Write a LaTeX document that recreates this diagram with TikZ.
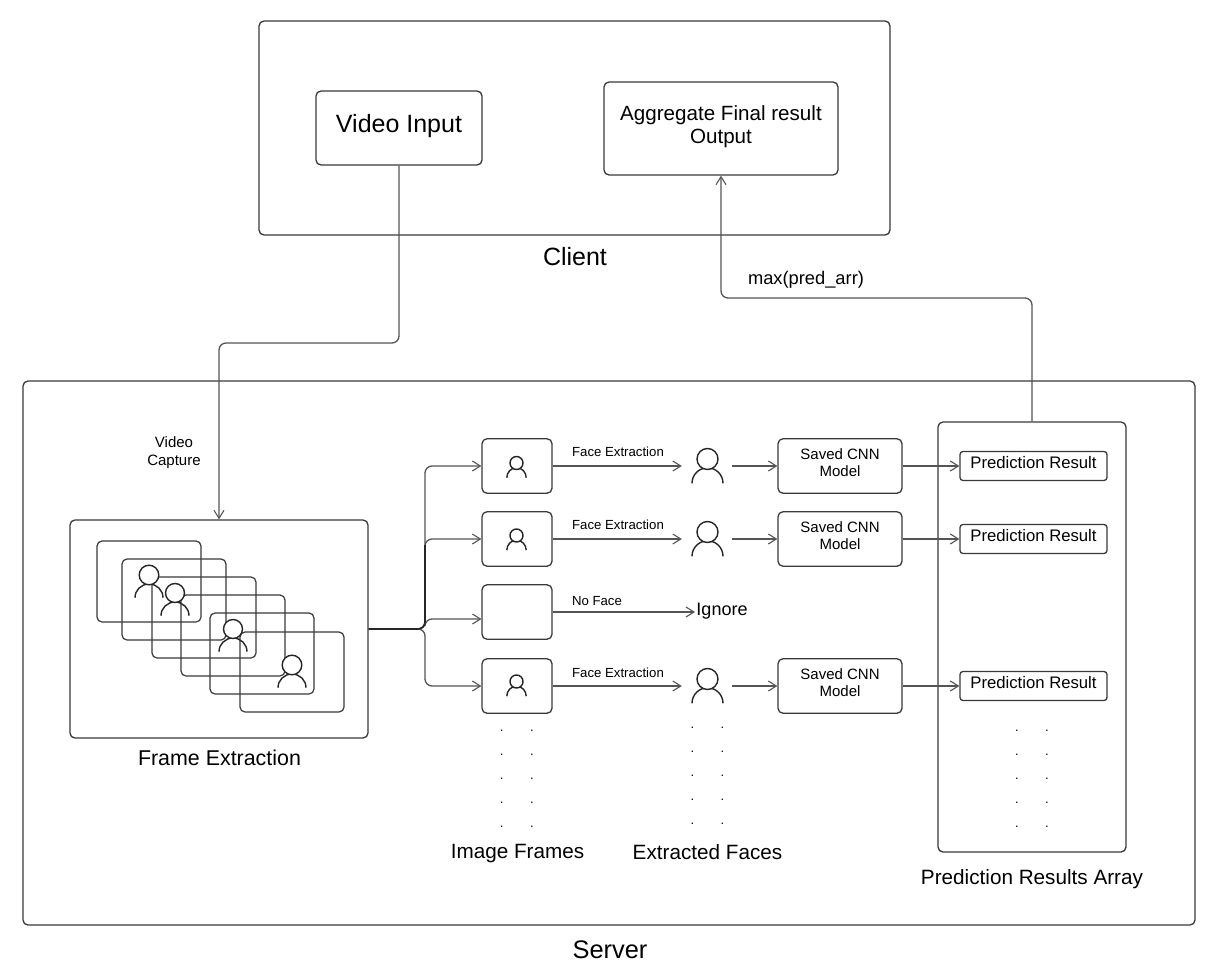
\documentclass[tikz,border=0pt]{standalone}
\usepackage{fontspec}
\setmainfont{Liberation Sans}
\usetikzlibrary{arrows.meta}
\definecolor{ln}{HTML}{3A3A3A}
\definecolor{cn}{HTML}{555555}
\newcommand{\fs}[2]{\fontsize{#1}{#2}\selectfont}
\newcommand{\lift}[1]{\rule[-#1]{0pt}{#1}}
\tikzset{
  box/.style={draw=ln,line width=1.3pt,rounded corners=5pt,align=center,inner sep=0pt,text=black},
  txt/.style={inner sep=0pt,align=center,text=black},
  conn/.style={draw=cn,line width=1.3pt,rounded corners=7pt,-{Straight Barb[length=8pt,width=10pt,line width=1.1pt]}},
  trunkline/.style={draw=black!85,line width=1.6pt,rounded corners=7pt},
  slot/.style={inner sep=0pt,minimum height=36pt},
  dotmark/.style={inner sep=0pt,font=\fs{13}{13}}
}
% person icon: cx, head centre y, head radius, half body width, base offset, body height
\newcommand{\personicon}[6]{%
  \draw[line width=1.4pt,draw=black!85] (#1-#4,#2+#5) arc[start angle=180,end angle=360,x radius=#4,y radius=#6];
  \draw[line width=1.4pt,draw=black!85,fill=white] (#1,#2) circle[radius=#3];
}
\begin{document}
\begin{tikzpicture}[x=1pt,y=-1pt]
\useasboundingbox[fill=white] (0,0) rectangle (1221,971);

% containers
\node[box,minimum width=631pt,minimum height=214pt] (client) at (574.5,128) {};
\node[box,minimum width=1172pt,minimum height=544pt] (server) at (609,653) {};
\node[txt,font=\fs{25}{25}] (clientlab) at (575,257) {Client};
\node[txt,font=\fs{25.4}{25}] (serverlab) at (610,950) {Server};

% client boxes
\node[box,minimum width=166pt,minimum height=74pt,font=\fs{25}{25}] (video) at (399,128) {Video Input\lift{10pt}};
\node[box,minimum width=234pt,minimum height=93pt,font=\fs{20.6}{23}] (agg) at (721,128.5) {Aggregate Final result\\Output\lift{7pt}};

% frame extraction
\node[box,minimum width=298pt,minimum height=218pt] (fe) at (219,629) {};
\node[txt,font=\fs{21.4}{22}] (felab) at (219.5,758) {Frame Extraction};
\foreach \nm/\a/\b/\c/\d in {fr1/97/201/541/622,fr2/122/226/559/640,fr3/152/256/577/658,fr4/181/285/595/676,fr5/210/314/613/694,fr6/240/344/632/712}{
  \node[box,line width=1.2pt,minimum width=\b pt-\a pt,minimum height=\d pt-\c pt] (\nm) at ({(\a+\b)/2},{(\c+\d)/2}) {};
}
\personicon{149}{575}{9.8}{14}{22.7}{13.7}
\personicon{175}{593}{9.5}{14}{22.7}{13.7}
\personicon{233}{629}{9.5}{14}{22.7}{13.7}
\personicon{292}{665}{9.8}{14}{22.7}{13.7}

% image frames
\foreach \nm/\cy in {img1/466,img2/539,img3/612,img4/686}{
  \node[box,minimum width=70pt,minimum height=54.5pt] (\nm) at (517,\cy) {};
}
\foreach \cy in {463,535.5,681.5}{ \personicon{516.5}{\cy}{6.5}{9.7}{14.7}{10} }

% faces
\foreach \nm/\cy in {face1/466,face2/539,face4/686}{
  \node[slot,minimum width=50pt] (\nm) at (707,\cy) {};
}
\foreach \cy in {459,532,679}{ \personicon{707.5}{\cy}{10.5}{15.5}{24.3}{15.5} }
\node[txt,font=\fs{18}{18}] (ignore) at (722,611) {Ignore};
\coordinate (ignorein) at (695,612);

% CNN
\foreach \nm/\cy in {cnn1/466,cnn2/539,cnn4/686}{
  \node[box,minimum width=124pt,minimum height=54.5pt,font=\fs{15}{17}] (\nm) at (840,\cy) {Saved CNN\\Model\lift{7pt}};
}

% prediction array
\node[box,minimum width=188pt,minimum height=430pt] (arr) at (1032,637) {};
\foreach \nm/\cy in {pr1/466,pr2/539,pr4/686}{
  \node[box,rounded corners=3pt,minimum width=147pt,minimum height=29pt,font=\fs{16.7}{17}] (\nm) at (1033.5,\cy) {Prediction Result\lift{7pt}};
}

% lower labels
\node[txt,font=\fs{20.7}{21}] (imlab) at (517.5,854) {Image Frames};
\node[txt,font=\fs{20.7}{21}] (exlab) at (707.5,852) {Extracted Faces};
\node[txt,font=\fs{20.7}{21}] (prlab) at (1032,879) {Prediction Results Array};
\foreach \yy in {730.7,754.3,778.7,802.3,826.3}{
  \node[dotmark] at (501.7,\yy) {.};
  \node[dotmark] at (532,\yy) {.};
  \node[dotmark] at (1017,\yy) {.};
  \node[dotmark] at (1047,\yy) {.};
}
\foreach \yy in {727.5,751.5,775.5,799.5,823.5}{
  \node[dotmark] at (692.5,\yy) {.};
  \node[dotmark] at (722.5,\yy) {.};
}

% connectors
\coordinate (busa) at (425,629);
\coordinate (in3) at (481.5,619);
\draw[conn] (video.south) -- (video.south |- 0,343) -- (fe.north |- 0,343) -- (fe.north);
\draw[conn] (arr.north) -- (arr.north |- 0,298) -- (agg.south |- 0,298) -- (agg.south);
\draw[conn] (fe.east) -- (busa) -- (busa |- img1.west) -- (img1.west);
\draw[conn] (fe.east) -- (busa) -- (busa |- img2.west) -- (img2.west);
\draw[conn] (fe.east) -- (busa) -- (busa |- in3) -- (in3);
\draw[conn] (fe.east) -- (busa) -- (busa |- img4.west) -- (img4.west);
\draw[trunkline] (fe.east) -- (busa) -- (busa |- 0,545);
\foreach \i in {1,2,4}{
  \draw[conn] (img\i.east) -- (face\i.west);
  \draw[conn] (face\i.east) -- (cnn\i.west);
  \draw[conn] (cnn\i.east) -- (pr\i.west);
}
\draw[conn] (img3.east) -- (ignorein);

% connector labels
\node[txt,font=\fs{18.3}{18}] (maxlab) at (806,280) {max(pred\_arr)};
\node[txt,font=\fs{15}{18}] (vclab) at (174,452.5) {Video\\Capture};
\node[txt,font=\fs{13.2}{14}] (fx1) at (618,452) {Face Extraction};
\node[txt,font=\fs{13.2}{14}] (fx2) at (618,525) {Face Extraction};
\node[txt,font=\fs{13.2}{14}] (fx4) at (618,673) {Face Extraction};
\node[txt,font=\fs{13.2}{14}] (nf) at (597,601) {No Face};
\end{tikzpicture}
\end{document}
